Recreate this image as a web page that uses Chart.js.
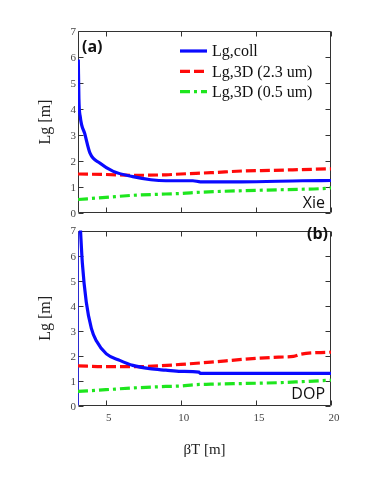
<!DOCTYPE html>
<html><head><meta charset="utf-8">
<script src="https://cdn.jsdelivr.net/npm/chart.js@4/dist/chart.umd.min.js"></script>
<style>
html,body{margin:0;padding:0;background:#fff;}
canvas{position:absolute;left:0;}
#c1{top:0;} #c2{top:222px;}
</style></head>
<body>
<canvas id="c1" width="374" height="222"></canvas>
<canvas id="c2" width="374" height="262"></canvas>
<script>
// ---- data ----
const X_TICKS = [5, 10, 15, 20];
const Y_TICKS = [0, 1, 2, 3, 4, 5, 6, 7];
const SERIES_NAMES = ['Lg,coll', 'Lg,3D (2.3 um)', 'Lg,3D (0.5 um)'];

// panel (a) Xie
const aCollX = [3.17, 3.21, 3.3, 3.6, 3.95, 4.6, 5.5, 6.8, 8, 9, 10.8, 11.3, 14, 18.1, 20];
const aCollY = [5.9, 4.4, 3.7, 3.05, 2.3, 1.92, 1.6, 1.4, 1.28, 1.24, 1.24, 1.2, 1.2, 1.24, 1.25];
const aThickX = [3.15, 5, 7, 9, 10, 12, 14.3, 16, 18, 20];
const aThickY = [1.5, 1.48, 1.45, 1.47, 1.5, 1.55, 1.62, 1.64, 1.67, 1.7];
const aThinX = [3.15, 5, 6.8, 9, 10, 11.3, 14.3, 17, 19.7, 20];
const aThinY = [0.52, 0.6, 0.68, 0.73, 0.75, 0.8, 0.86, 0.9, 0.95, 0.97];

// panel (b) DOP
const bCollX = [3.3, 3.44, 3.7, 4.04, 4.37, 5.04, 5.93, 6.8, 7.93, 9.0, 10, 11.2, 11.3, 15, 20];
const bCollY = [7.2, 5.7, 4.15, 3.1, 2.6, 2.08, 1.82, 1.62, 1.49, 1.43, 1.38, 1.35, 1.3, 1.3, 1.3];
const bThickX = [3.15, 5, 7, 8.5, 10, 12, 14.3, 16.5, 17.5, 18, 20];
const bThickY = [1.6, 1.57, 1.57, 1.6, 1.66, 1.75, 1.87, 1.95, 1.98, 2.07, 2.15];
const bThinX = [3.15, 5, 6.8, 9, 10, 10.9, 12, 14.3, 16.5, 18, 20];
const bThinY = [0.58, 0.65, 0.72, 0.78, 0.8, 0.85, 0.87, 0.9, 0.93, 0.97, 1.03];

const zip = (xs, ys) => xs.map((x, i) => ({x, y: ys[i]}));

const STYLES = [
  {borderColor: '#0a0aff', borderWidth: 3.2, borderDash: []},
  {borderColor: '#ff0a0a', borderWidth: 3.2, borderDash: [10, 4]},
  {borderColor: '#1ee61e', borderWidth: 3.2, borderDash: [10, 4, 3, 4]},
];

function makeDatasets(sets) {
  return sets.map((s, i) => Object.assign({
    label: SERIES_NAMES[i], data: s, pointRadius: 0, fill: false,
    cubicInterpolationMode: 'monotone'
  }, STYLES[i]));
}

const serif = "'Liberation Serif', 'DejaVu Serif', serif";
const sans = "'Open Sans', 'Liberation Sans', sans-serif";

const frame = {
  id: 'frame',
  beforeDatasetsDraw(chart, args, o) {
    const {ctx, chartArea: a, scales: {x, y}} = chart;
    ctx.save();
    ctx.strokeStyle = '#333';
    ctx.lineWidth = 1;
    const L = Math.round(a.left) + 0.5, R = Math.round(a.right) - 0.5;
    const T = Math.round(a.top) + 0.5, B = Math.round(a.bottom) - 0.5;
    ctx.beginPath();
    ctx.moveTo(L, B); ctx.lineTo(R, B); ctx.lineTo(R, T); ctx.lineTo(L, T);
    ctx.stroke();
    ctx.beginPath();
    ctx.strokeStyle = o.leftColor || '#333';
    ctx.moveTo(L, T); ctx.lineTo(L, B); ctx.stroke();
    ctx.strokeStyle = '#333';
    ctx.beginPath();
    X_TICKS.forEach(v => {
      const px = Math.round(x.getPixelForValue(v)) + 0.5;
      ctx.moveTo(px, B); ctx.lineTo(px, B - 5);
      ctx.moveTo(px, T); ctx.lineTo(px, T + 5);
    });
    Y_TICKS.forEach(v => {
      const py = Math.round(y.getPixelForValue(v)) + 0.5;
      ctx.moveTo(L, py); ctx.lineTo(L + 5, py);
      ctx.moveTo(R, py); ctx.lineTo(R - 5, py);
    });
    ctx.stroke();
    ctx.restore();
  },
  afterDraw(chart, args, o) {
    const {ctx} = chart;
    ctx.save();
    // panel letter
    ctx.fillStyle = '#111';
    ctx.font = "bold 16px " + sans;
    ctx.textBaseline = 'middle';
    ctx.textAlign = o.letterAlign;
    ctx.fillText(o.letter, o.letterX, o.letterY);
    // source name
    ctx.font = "16px " + sans;
    ctx.textAlign = 'right';
    ctx.fillText(o.name, o.nameX, o.nameY);

    // legend
    if (o.legend) {
      chart.data.datasets.forEach((ds, i) => {
        const ly = 51 + i * 20.3;
        ctx.save();
        ctx.strokeStyle = ds.borderColor;
        ctx.lineWidth = ds.borderWidth;
        ctx.setLineDash(ds.borderDash);
        ctx.beginPath();
        ctx.moveTo(180, ly); ctx.lineTo(207, ly);
        ctx.stroke();
        ctx.restore();
        ctx.fillStyle = '#111';
        ctx.font = "16px " + serif;
        ctx.textAlign = 'left';
        ctx.textBaseline = 'middle';
        ctx.fillText(ds.label, 212, ly + 1);
      });
    }
    ctx.restore();
  }
};

function makeChart(id, sets, isBottom, pluginOpts) {
  return new Chart(document.getElementById(id), {
    type: 'line',
    data: {datasets: makeDatasets(sets)},
    options: {
      responsive: false, animation: false,
      layout: {padding: isBottom ? {top: 1, right: 43, bottom: 0, left: 0}
                                 : {top: 31, right: 43, bottom: 9, left: 0}},
      plugins: {legend: {display: false}, tooltip: {enabled: false}, frame: pluginOpts},
      scales: {
        x: {
          type: 'linear', min: 3.15, max: 20,
          afterBuildTicks: s => { s.ticks = X_TICKS.map(v => ({value: v})); },
          afterFit: s => { s.height = isBottom ? 78 : 0; },
          grid: {display: false, drawTicks: false},
          border: {display: false},
          ticks: {display: isBottom, padding: 6, color: '#444', labelOffset: 3,
                  font: {family: serif, size: 11}},
          title: {display: isBottom, text: 'βT [m]', color: '#222',
                  font: {family: serif, size: 15}, padding: {top: 0, bottom: 25}}
        },
        y: {
          min: 0, max: 7,
          afterBuildTicks: s => { s.ticks = Y_TICKS.map(v => ({value: v})); },
          afterFit: s => { s.width = 78; },
          grid: {display: false, drawTicks: false},
          border: {display: false},
          ticks: {padding: 2, color: '#444', labelOffset: 1, font: {family: serif, size: 11}},
          title: {display: true, text: 'Lg [m]', color: '#222',
                  font: {family: serif, size: 16}, padding: {top: 36, bottom: 0}}
        }
      }
    },
    plugins: [frame]
  });
}

makeChart('c1', [zip(aCollX, aCollY), zip(aThickX, aThickY), zip(aThinX, aThinY)], false,
  {letter: '(a)', letterAlign: 'left', letterX: 82, letterY: 47, name: 'Xie', nameX: 325, nameY: 203, legend: true});
makeChart('c2', [zip(bCollX, bCollY), zip(bThickX, bThickY), zip(bThinX, bThinY)], true,
  {letter: '(b)', letterAlign: 'right', letterX: 328, letterY: 12, name: 'DOP', nameX: 325, nameY: 172, legend: false, leftColor: '#2a2ad0'});
</script>
</body></html>
